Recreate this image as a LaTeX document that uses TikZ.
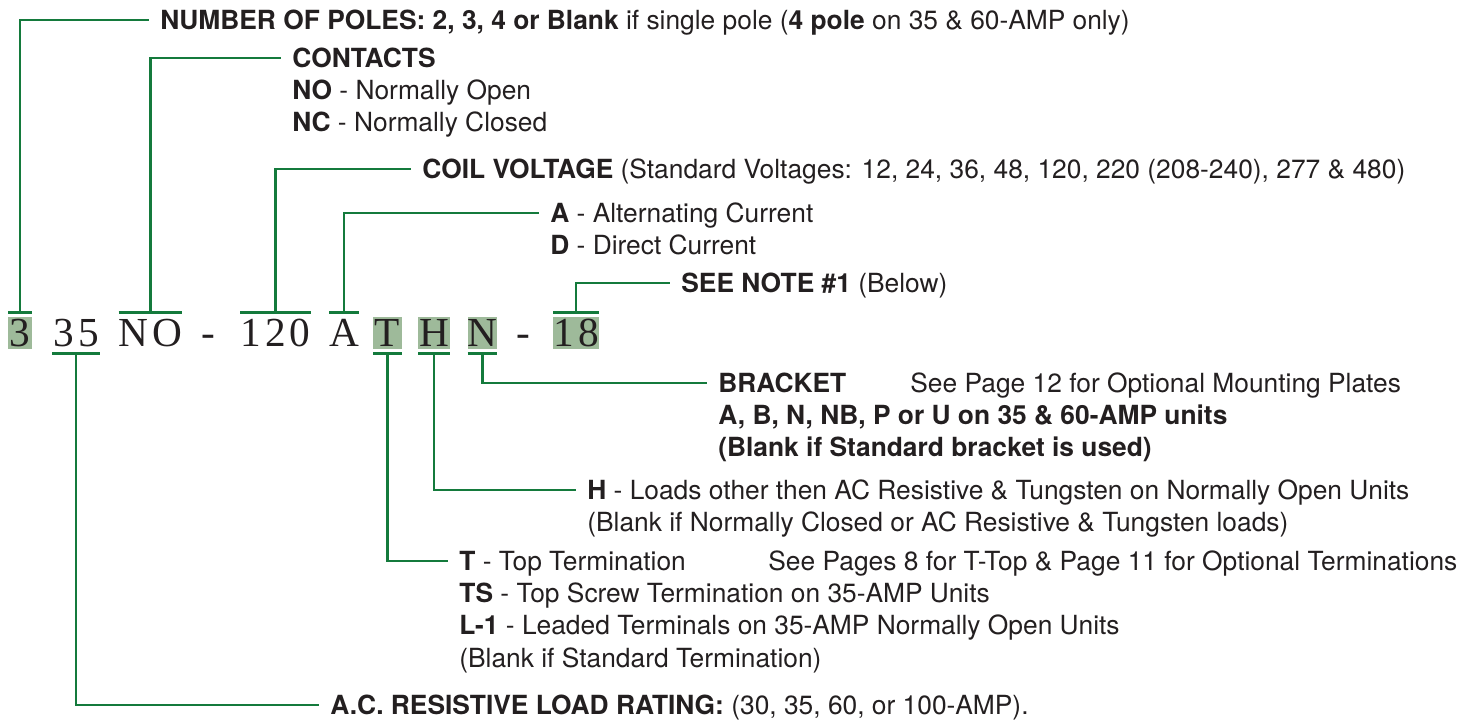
\documentclass[tikz,border=0pt]{standalone}
\usepackage{fontspec}
\setmainfont{TeX Gyre Heros}
\newfontfamily\partfont[LetterSpace=10]{Liberation Serif}
\usetikzlibrary{positioning}
\definecolor{leadgreen}{RGB}{20,122,60}
\definecolor{partfill}{RGB}{158,186,154}
\definecolor{inkgray}{RGB}{35,31,32}

\begin{document}
\begin{tikzpicture}[
  x=0.02cm, y=-0.02cm,
  part/.style={inner sep=0pt, outer xsep=0pt, outer ysep=0.085cm,
    minimum height=0.64cm, text height=0.535cm, text depth=0pt,
    text=inkgray, font=\partfont\fontsize{23.5}{23.5}\selectfont},
  hl/.style={fill=partfill},
  txt/.style={anchor=west, inner xsep=0.22cm, inner ysep=0pt,
    text height=0.502cm, text depth=0.13cm, text=inkgray,
    font=\fontsize{15}{17}\selectfont},
  nxt/.style={txt, anchor=north west},
  lead/.style={draw=leadgreen, line width=1.7pt}
]
\useasboundingbox (0,0) rectangle (1461,723);

% Part number
\node[part, hl, minimum width=0.48cm] (p3) at (20,333) {3};
\node[part, minimum width=0.96cm] (p35) at (76,333) {35};
\node[part, minimum width=1.14cm] (pNO) at (150.5,333) {NO};
\node[part] (dashA) at (208,333) {-};
\node[part, minimum width=1.38cm] (p120) at (275.5,333) {120};
\node[part, minimum width=0.52cm] (pA) at (344,333) {A};
\node[part, hl, minimum width=0.58cm] (pT) at (387.5,333) {T};
\node[part, hl, minimum width=0.64cm] (pH) at (434,333) {H};
\node[part, hl, minimum width=0.58cm] (pN) at (482.5,333) {N};
\node[part] (dashB) at (523,333) {-};
\node[part, hl, minimum width=0.92cm] (p18) at (576,333) {18};

% Labels above
\node[txt] (poles) at (149,20) {\textbf{NUMBER OF POLES: 2, 3, 4 or Blank} if single pole (\textbf{4 pole} on 35 \& 60-AMP only)};
\node[txt] (contacts) at (281,58) {\textbf{CONTACTS}};
\node[nxt] (cno) at (contacts.south west) {\textbf{NO} - Normally Open};
\node[nxt] (cnc) at (cno.south west) {\textbf{NC} - Normally Closed};
\node[txt] (coil) at (411,169) {\textbf{COIL VOLTAGE} (Standard Voltages: 12, 24, 36, 48, 120, 220 (208-240), 277 \& 480)};
\node[txt] (acdc) at (539,213) {\textbf{A} - Alternating Current};
\node[nxt] (dc) at (acdc.south west) {\textbf{D} - Direct Current};
\node[txt] (note) at (670,283) {\textbf{SEE NOTE \#1} (Below)};

% Labels below
\node[txt] (bracket) at (707,383) {\textbf{BRACKET}};
\node[txt] (seepg12) at (899,383) {See Page 12 for Optional Mounting Plates};
\node[nxt] (brunits) at (bracket.south west) {\textbf{A, B, N, NB, P or U on 35 \& 60-AMP units}};
\node[nxt] (brblank) at (brunits.south west) {\textbf{(Blank if Standard bracket is used)}};
\node[txt] (hload) at (576,490) {\textbf{H} - Loads other then AC Resistive \& Tungsten on Normally Open Units};
\node[nxt] (hblank) at (hload.south west) {(Blank if Normally Closed or AC Resistive \& Tungsten loads)};
\node[txt] (term) at (448,561) {\textbf{T} - Top Termination};
\node[txt] (seepg8) at (757,561) {See Pages 8 for T-Top \& Page 11 for Optional Terminations};
\node[nxt] (tscrew) at (term.south west) {\textbf{TS} - Top Screw Termination on 35-AMP Units};
\node[nxt] (tlead) at (tscrew.south west) {\textbf{L-1} - Leaded Terminals on 35-AMP Normally Open Units};
\node[nxt] (tblank) at (tlead.south west) {(Blank if Standard Termination)};
\node[txt] (rating) at (319,705) {\textbf{A.C. RESISTIVE LOAD RATING:} (30, 35, 60, or 100-AMP).};

% Leader lines
\foreach \p/\t in {p3/poles, pNO/contacts, p120/coil, pA/acdc, p18/note}
  \draw[lead] (\p.north west) -- (\p.north east) (\p.north) |- (\t.west);
\foreach \p/\t in {pN/bracket, pH/hload, pT/term, p35/rating}
  \draw[lead] (\p.south west) -- (\p.south east) (\p.south) |- (\t.west);
\end{tikzpicture}
\end{document}
